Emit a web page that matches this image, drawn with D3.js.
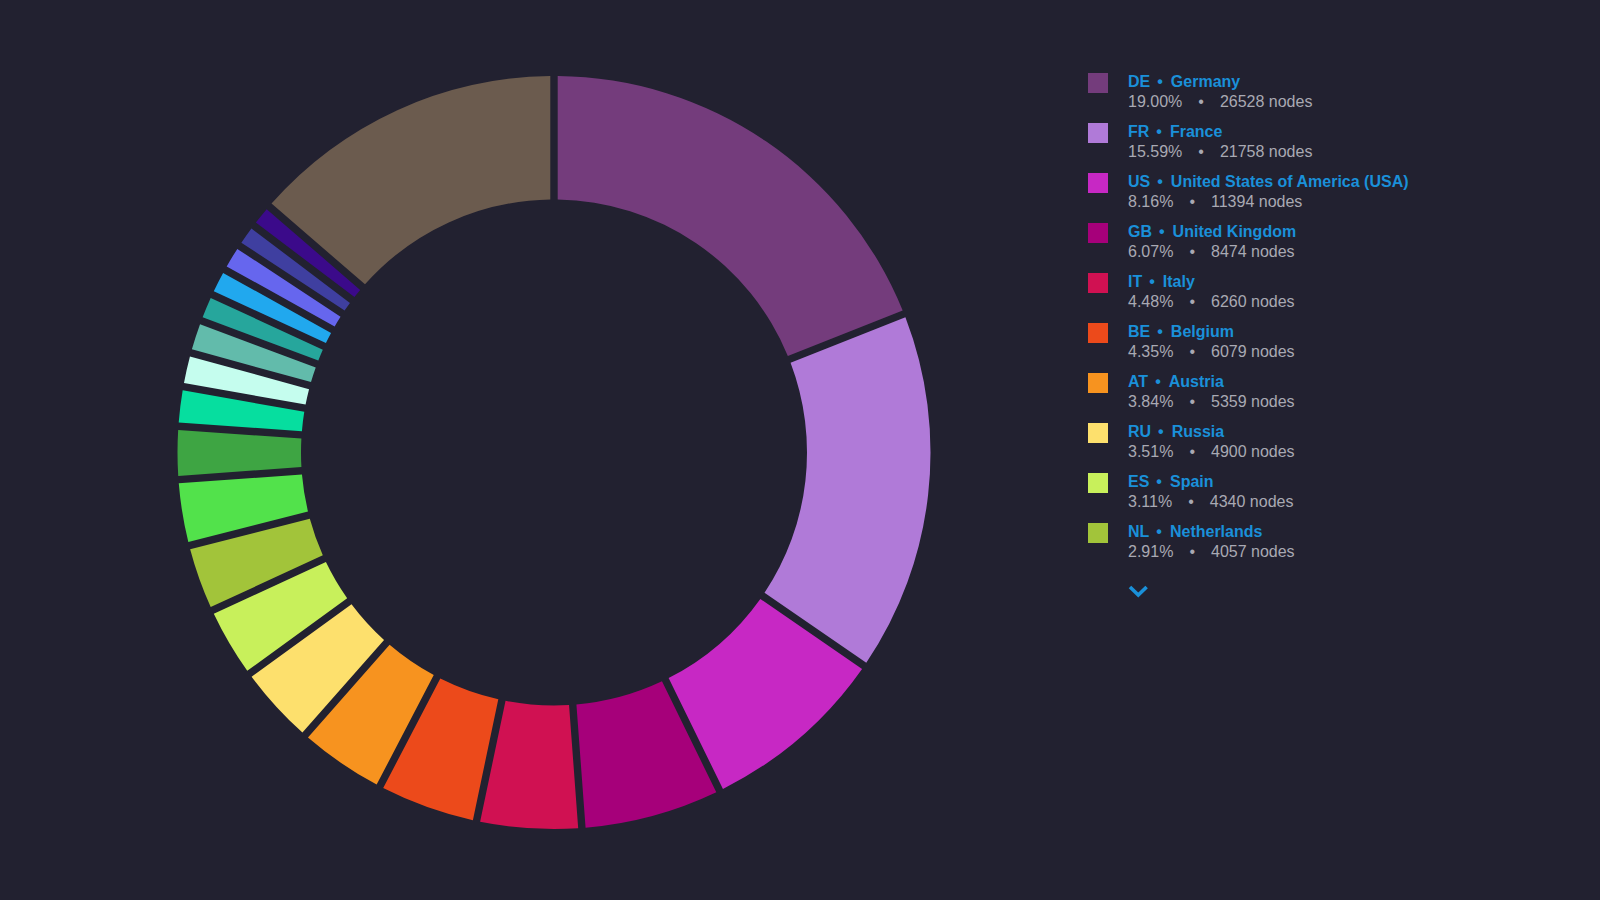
<!DOCTYPE html>
<html>
<head>
<meta charset="utf-8">
<script src="https://cdn.jsdelivr.net/npm/d3@7/dist/d3.min.js"></script>
<style>
  html, body { margin: 0; padding: 0; background: #222130; }
  svg { display: block; }
</style>
</head>
<body>
<svg id="chart" width="1600" height="900"></svg>
<script>
// ---- data ----
const codes   = ["DE", "FR", "US", "GB", "IT", "BE", "AT", "RU", "ES", "NL"];
const names   = ["Germany", "France", "United States of America (USA)", "United Kingdom",
                 "Italy", "Belgium", "Austria", "Russia", "Spain", "Netherlands"];
const percents = [19.00, 15.59, 8.16, 6.07, 4.48, 4.35, 3.84, 3.51, 3.11, 2.91];
const nodes    = [26528, 21758, 11394, 8474, 6260, 6079, 5359, 4900, 4340, 4057];
// remaining slices (not listed in the visible legend)
const hiddenPercents = [2.83, 2.26, 1.69, 1.46, 1.43, 1.20, 1.18, 1.18, 1.05, 1.04, 13.66];

const sliceColors = [
  "#743c7c", "#b07ad8", "#c728c4", "#a6007a", "#d01152",
  "#ec4a1b", "#f7931f", "#fde06d", "#c8f05b", "#a2c43a",
  "#52e24b", "#3ea543", "#06de9f", "#c5fdee", "#62bbab",
  "#26a69c", "#21a8ee", "#6666ee", "#3f3fa0", "#3b0a8a",
  "#6b5b4e"
];

const allValues = percents.concat(hiddenPercents);

// ---- layout ----
const svg = d3.select("#chart");
const cx = 554, cy = 452.5;
const outerR = 376.5, innerR = 253;
const gap = 7.4;

const pie = d3.pie().sort(null).value(d => d)
  .startAngle(0).endAngle(2 * Math.PI);
const arc = d3.arc()
  .innerRadius(innerR).outerRadius(outerR)
  .padRadius(outerR).padAngle(gap / outerR);

const color = d3.scaleOrdinal().domain(d3.range(allValues.length)).range(sliceColors);

svg.append("g")
  .attr("transform", `translate(${cx},${cy})`)
  .selectAll("path")
  .data(pie(allValues))
  .join("path")
  .attr("d", arc)
  .attr("fill", (d, i) => color(i));

// ---- legend ----
const blue = "#1a90d9";
const grey = "#a9a9b3";
const lx = 1088, ly = 73, step = 50;
const legendY = d3.scaleLinear().domain([0, 1]).range([ly, ly + step]);

const items = svg.append("g").selectAll("g")
  .data(codes)
  .join("g")
  .attr("transform", (d, i) => `translate(${lx},${legendY(i)})`);

items.append("rect")
  .attr("width", 20).attr("height", 20)
  .attr("fill", (d, i) => color(i));

const title = items.append("text")
  .attr("x", 40).attr("y", 14)
  .attr("font-family", "'Liberation Sans', Arial, sans-serif")
  .attr("font-size", 16).attr("font-weight", "bold")
  .attr("fill", blue);
title.append("tspan").text(d => d);
title.append("tspan").attr("dx", 7).text("•");
title.append("tspan").attr("dx", 8).text((d, i) => names[i]);

const sub = items.append("text")
  .attr("x", 40).attr("y", 34)
  .attr("font-family", "'Liberation Sans', Arial, sans-serif")
  .attr("font-size", 16)
  .attr("fill", grey);
sub.append("tspan").text((d, i) => percents[i].toFixed(2) + "%");
sub.append("tspan").attr("dx", 16).text("•");
sub.append("tspan").attr("dx", 16).text((d, i) => nodes[i] + " nodes");

// chevron (more items)
svg.append("path")
  .attr("d", "M1130,587 L1138.3,595 L1146.6,587")
  .attr("fill", "none")
  .attr("stroke", blue)
  .attr("stroke-width", 3.6)
  .attr("stroke-linecap", "butt")
  .attr("stroke-linejoin", "miter");
</script>
</body>
</html>
